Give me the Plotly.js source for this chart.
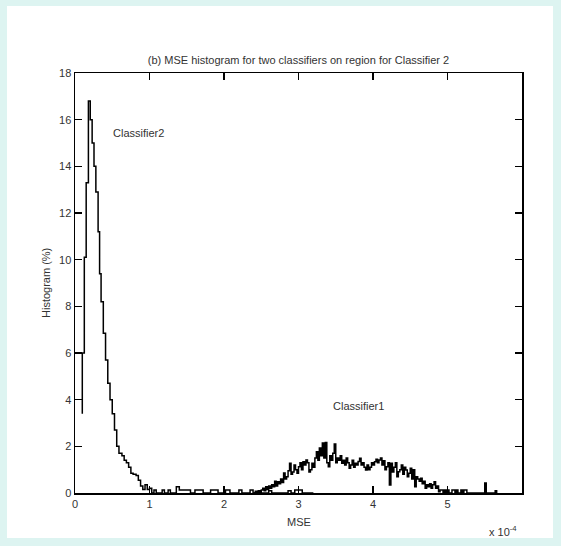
<!DOCTYPE html>
<html>
<head>
<meta charset="utf-8">
<script src="https://cdn.plot.ly/plotly-3.0.1.min.js"></script>
<style>
  html, body { margin: 0; padding: 0; background: #ddf4f1; width: 561px; height: 546px; overflow: hidden; }
  #chart { position: absolute; left: 7px; top: 6px; width: 546px; height: 532px; background: #ffffff; }
</style>
</head>
<body>
<div id="chart"></div>
<script>
// ---- Data (MSE in units of 1e-4, histogram in %) ----
const chartTitle = "(b) MSE histogram for two classifiers on region for Classifier 2";
const xTickVals = [0, 1, 2, 3, 4, 5];
const xTickText = ["0", "1", "2", "3", "4", "5"];
const yTickVals = [0, 2, 4, 6, 8, 10, 12, 14, 16, 18];

// Classifier 2: step points (left edge of each level, level)
const c2X = [0.098, 0.098, 0.125, 0.15, 0.18, 0.205, 0.23, 0.255, 0.28, 0.31, 0.33, 0.35, 0.38, 0.41, 0.44, 0.47,
  0.50, 0.53, 0.56, 0.59, 0.63, 0.66, 0.69, 0.72, 0.75, 0.78, 0.82, 0.85, 0.88, 0.91, 0.94, 0.97, 1.00, 1.03,
  1.06, 1.09, 1.17, 1.20, 1.25, 1.28, 1.36, 1.40, 1.55, 1.61, 1.72, 1.82, 1.92, 2.02, 2.08, 2.20, 2.24, 2.35,
  2.39, 2.48, 2.50, 2.60, 2.64, 2.86, 2.90, 2.95, 3.05, 3.20];
const c2Y = [3.4, 6.0, 10.1, 13.3, 16.8, 16.0, 15.0, 14.0, 12.9, 11.2, 9.4, 8.2, 6.85, 5.7, 4.7, 4.0,
  3.4, 2.7, 2.0, 1.7, 1.6, 1.4, 1.3, 1.1, 0.85, 0.8, 0.75, 0.55, 0.3, 0.15, 0.35, 0.15, 0.2, 0.0,
  0.13, 0.0, 0.13, 0.0, 0.13, 0.0, 0.27, 0.13, 0.0, 0.13, 0.0, 0.13, 0.0, 0.13, 0.0, 0.13, 0.0, 0.13,
  0.0, 0.1, 0.0, 0.1, 0.0, 0.1, 0.0, 0.13, 0.0, 0.0];

// Classifier 1: histogram levels on bins starting at c1Start, width c1Bin
const c1Start = 2.40;
const c1Bin = 0.02;
const c1Y = [
  0, 0.07, 0, 0.1, 0.05, 0.13, 0.2, 0.1, 0.27, 0.15,
  0.3, 0.2, 0.35, 0.27, 0.5, 0.3, 0.48, 0.4, 0.6, 0.45,
  0.86, 0.6, 0.7, 0.95, 1.28, 0.8, 0.9, 1.2, 1.0, 0.85,
  1.13, 1.3, 1.0, 1.34, 1.2, 1.41, 1.3, 0.9, 1.0, 1.27,
  1.1, 1.5, 1.77, 1.4, 1.93, 1.6, 2.14, 1.5, 2.16, 1.3,
  1.13, 1.6, 1.4, 1.7, 2.1, 1.3, 1.5, 1.4, 1.6, 1.27,
  1.4, 1.2, 1.5, 1.3, 1.06, 1.2, 1.4, 1.1, 1.28, 1.2,
  1.35, 1.49, 1.2, 1.3, 1.1, 0.99, 1.2, 1.0, 1.1, 1.3,
  1.2, 1.34, 1.45, 1.3, 1.41, 1.5, 1.2, 1.38, 1.0, 1.13,
  1.3, 0.34, 1.28, 0.9, 1.1, 1.3, 0.7, 0.91, 1.0, 1.2,
  0.8, 1.1, 0.99, 0.7, 0.85, 1.06, 0.6, 1.0, 0.27, 0.7,
  0.6, 0.5, 0.63, 0.4, 0.5, 0.2, 0.35, 0.27, 0.4, 0.2,
  0.35, 0.48, 0.2, 0.3, 0.05, 0.13, 0.13, 0, 0.13, 0,
  0.13, 0, 0, 0.13, 0.13, 0, 0.13, 0, 0, 0.13,
  0, 0.13, 0.13, 0, 0, 0, 0, 0, 0, 0,
  0, 0, 0, 0, 0, 0.43, 0, 0, 0, 0,
  0, 0, 0.1, 0
];

const labelC2 = { text: "Classifier2", x: 0.85, y: 15.45 };
const labelC1 = { text: "Classifier1", x: 3.80, y: 3.73 };
const xExponent = "x 10<sup>-4</sup>";

// ---- Chart ----
const textColor = "#333333";
const fontFam = "Arial, 'Liberation Sans', sans-serif";

const traces = [
  { x: c2X, y: c2Y, type: "scatter", mode: "lines", line: { shape: "hv", color: "#000000", width: 1.5 }, hoverinfo: "skip" },
  { x0: c1Start, dx: c1Bin, y: c1Y, type: "scatter", mode: "lines", line: { shape: "hv", color: "#000000", width: 1.5 }, hoverinfo: "skip" }
];

const layout = {
  width: 546, height: 532,
  margin: { l: 68, r: 31, t: 67, b: 45 },
  paper_bgcolor: "#ffffff", plot_bgcolor: "#ffffff",
  showlegend: false,
  font: { family: fontFam, size: 11, color: textColor },
  title: { text: chartTitle, font: { family: fontFam, size: 11, color: textColor },
           xref: "paper", x: 0.5, xanchor: "center", yref: "container", y: 1 - 54 / 532, yanchor: "middle" },
  xaxis: {
    range: [0, 6], tickvals: xTickVals, ticktext: xTickText,
    ticks: "inside", ticklen: 7, tickwidth: 1.5, tickcolor: "#000",
    showline: true, linecolor: "#000", linewidth: 1.5, mirror: "ticks",
    showgrid: false, zeroline: false, tickfont: { size: 11, color: textColor }
  },
  yaxis: {
    range: [0, 18], tickvals: yTickVals,
    ticks: "inside", ticklen: 7, tickwidth: 1.5, tickcolor: "#000",
    showline: true, linecolor: "#000", linewidth: 1.5, mirror: "ticks",
    showgrid: false, zeroline: false, tickfont: { size: 11, color: textColor }
  },
  annotations: [
    { text: labelC2.text, x: labelC2.x, y: labelC2.y, xref: "x", yref: "y", showarrow: false, font: { size: 11, color: textColor } },
    { text: labelC1.text, x: labelC1.x, y: labelC1.y, xref: "x", yref: "y", showarrow: false, font: { size: 11, color: textColor } },
    { text: "Histogram (%)", xref: "paper", yref: "paper", x: 0, y: 0.5, xshift: -29, textangle: -90, showarrow: false,
      xanchor: "center", yanchor: "middle", font: { size: 11, color: textColor } },
    { text: "MSE", xref: "paper", yref: "paper", x: 0.5, y: 0, yshift: -29, showarrow: false,
      xanchor: "center", yanchor: "middle", font: { size: 11, color: textColor } },
    { text: xExponent, xref: "paper", yref: "paper", x: 1, y: 0, xshift: -19, yshift: -38, showarrow: false,
      xanchor: "center", yanchor: "middle", font: { size: 11, color: textColor } }
  ]
};

Plotly.newPlot("chart", traces, layout, { displayModeBar: false, staticPlot: true });
</script>
</body>
</html>
